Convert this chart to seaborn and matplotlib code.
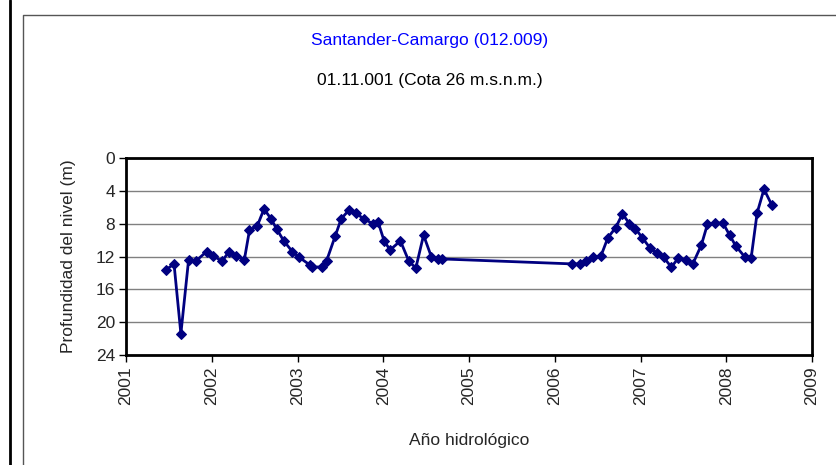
import matplotlib
matplotlib.use("Agg")
import matplotlib.pyplot as plt
import seaborn as sns
import pandas as pd
from matplotlib.lines import Line2D

# decimal year of each measurement and depth to water level (m)
years = [2001.47, 2001.56, 2001.64, 2001.73, 2001.82, 2001.94, 2002.02, 2002.12,
         2002.20, 2002.28, 2002.38, 2002.44, 2002.53, 2002.61, 2002.69, 2002.76,
         2002.84, 2002.94, 2003.02, 2003.14, 2003.17, 2003.28, 2003.34, 2003.44,
         2003.51, 2003.60, 2003.68, 2003.77, 2003.88, 2003.94, 2004.01, 2004.08,
         2004.20, 2004.30, 2004.38, 2004.47, 2004.56, 2004.64, 2004.69,
         2006.20, 2006.29, 2006.37, 2006.45, 2006.54, 2006.62, 2006.71, 2006.79,
         2006.87, 2006.94, 2007.02, 2007.11, 2007.19, 2007.27, 2007.36, 2007.44,
         2007.53, 2007.61, 2007.71, 2007.78, 2007.87, 2007.96, 2008.04, 2008.11,
         2008.22, 2008.29, 2008.36, 2008.44, 2008.53]
depth = [13.6, 12.9, 21.4, 12.4, 12.5, 11.4, 11.9, 12.6,
         11.4, 11.9, 12.4, 8.8, 8.3, 6.2, 7.4, 8.7,
         10.1, 11.4, 12.1, 13.0, 13.25, 13.3, 12.5, 9.5,
         7.4, 6.35, 6.7, 7.4, 8.0, 7.8, 10.1, 11.2,
         10.1, 12.6, 13.4, 9.4, 12.0, 12.3, 12.3,
         12.9, 12.9, 12.6, 12.1, 11.9, 9.7, 8.5, 6.8,
         8.0, 8.6, 9.7, 10.95, 11.6, 12.1, 13.3, 12.2,
         12.4, 12.9, 10.6, 8.1, 7.95, 7.9, 9.4, 10.7,
         12.1, 12.2, 6.7, 3.8, 5.7]
x_ticks = list(range(2001, 2010))
y_ticks = [0, 4, 8, 12, 16, 20, 24]

FS = 12.5

sns.set_theme(style="white")
plt.rcParams["font.family"] = ["Liberation Sans", "DejaVu Sans"]

df = pd.DataFrame({"year": years, "depth": depth})

fig = plt.figure(figsize=(8.37, 4.65), dpi=100)
ax = fig.add_axes([126 / 837, 1 - 355 / 465, (812 - 126) / 837, (355 - 158) / 465])

sns.lineplot(data=df, x="year", y="depth", sort=False, ax=ax, color="#000080",
             linewidth=2, marker="D", markersize=5, markeredgecolor="#000080")

ax.set_xlim(2001, 2009)
ax.set_ylim(24, 0)
ax.set_xticks(x_ticks)
ax.set_yticks(y_ticks)
ax.set_xticklabels([str(t) for t in x_ticks], rotation=90, fontsize=FS)
ax.set_yticklabels([str(t) for t in y_ticks], fontsize=FS)
ax.tick_params(axis="both", direction="out", length=5, width=1, color="black",
               bottom=True, left=True, pad=3)
ax.grid(axis="y", color="#808080", linewidth=1)
ax.grid(axis="x", visible=False)
for s in ax.spines.values():
    s.set_color("black")
    s.set_linewidth(2)

ax.set_xlabel("Año hidrológico", fontsize=FS, labelpad=20)
ax.set_ylabel("Profundidad del nivel (m)", fontsize=FS, labelpad=14)

fig.text(430 / 837, 1 - 40 / 465, "Santander-Camargo (012.009)", color="#0000FF",
         fontsize=FS, ha="center", va="center")
fig.text(430 / 837, 1 - 80 / 465, "01.11.001 (Cota 26 m.s.n.m.)", color="black",
         fontsize=FS, ha="center", va="center")

# outer frame lines
fig.add_artist(Line2D([10 / 837, 10 / 837], [0, 1], color="black", linewidth=2))
fig.add_artist(Line2D([23 / 837, 23 / 837, 1], [0, 1 - 15 / 465, 1 - 15 / 465],
                      color="#555555", linewidth=1))

fig.savefig("out.png", dpi=100)
